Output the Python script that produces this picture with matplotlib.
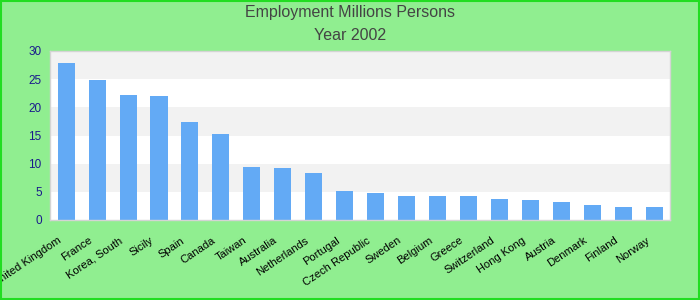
import matplotlib
matplotlib.use("Agg")
import matplotlib.pyplot as plt
import matplotlib.transforms as mtransforms
from matplotlib.patches import Rectangle

plt.rcParams['font.family'] = ['Liberation Sans', 'DejaVu Sans']

countries = ["United Kingdom", "France", "Korea, South", "Sicily", "Spain", "Canada",
             "Taiwan", "Australia", "Netherlands", "Portugal", "Czech Republic", "Sweden",
             "Belgium", "Greece", "Switzerland", "Hong Kong", "Austria", "Denmark",
             "Finland", "Norway"]
employment = [27.9, 24.9, 22.2, 22.0, 17.4, 15.3, 9.4, 9.2, 8.3, 5.2, 4.8, 4.3,
              4.3, 4.3, 3.7, 3.6, 3.2, 2.7, 2.3, 2.3]
yticks = [0, 5, 10, 15, 20, 25, 30]
title_lines = ["Employment Millions Persons", "Year 2002"]

fig = plt.figure(figsize=(7, 3), dpi=100, facecolor='#90EE90')
fig.patches.append(Rectangle((0.001, 0.002), 0.997, 0.995, transform=fig.transFigure,
                             fill=False, edgecolor='#22dd22', linewidth=1.5, zorder=10))
ax = fig.add_axes([50/700, 80/300, 620/700, 169/300])
ax.set_facecolor('white')

# alternating bands
for i in range(len(yticks) - 1):
    if i % 2 == 1:
        ax.axhspan(yticks[i], yticks[i+1], color='#f2f2f2', zorder=0, linewidth=0)

x = list(range(len(countries)))
ax.bar(x, employment, width=0.55, color='#63aaf5', zorder=2)

ax.set_xlim(-0.52, len(countries) - 0.5)
ax.set_ylim(0, 30)
ax.set_yticks(yticks)
ax.set_yticklabels([str(v) for v in yticks], color='#1a1a8c', fontsize=8.5)
ax.tick_params(axis='y', length=0, pad=6)
ax.set_xticks(x)
ax.set_xticklabels(countries, rotation=34, ha='right', va='top',
                   rotation_mode='anchor', fontsize=8, color='black')
ax.tick_params(axis='x', length=0, pad=11)
offset = mtransforms.ScaledTranslation(-9/100, 0, fig.dpi_scale_trans)
for lbl in ax.get_xticklabels():
    lbl.set_transform(lbl.get_transform() + offset)

for s in ax.spines.values():
    s.set_color('#d4d4d4')
    s.set_linewidth(1)

fig.text(0.5, 1 - 13/300, title_lines[0], ha='center', va='center', fontsize=11.5, color='#444444')
fig.text(0.5, 1 - 36/300, title_lines[1], ha='center', va='center', fontsize=11.5, color='#444444')

fig.savefig('out.png', dpi=100, facecolor=fig.get_facecolor())
